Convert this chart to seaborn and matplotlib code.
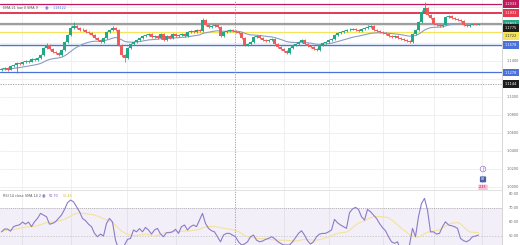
import numpy as np
import pandas as pd
import matplotlib
matplotlib.use("Agg")
import matplotlib.pyplot as plt
import seaborn as sns

sns.set_theme(style="white")
plt.rcParams['font.family'] = ['DejaVu Sans']

# ---------------- data ----------------
first_open = 1.1300
closes = [1.1311, 1.1322, 1.1300, 1.1345, 1.1356, 1.1378, 1.1367, 1.1389, 1.1400, 1.1389,
          1.1422, 1.1411, 1.1433, 1.1467, 1.1545, 1.1578, 1.1534, 1.1500, 1.1489, 1.1467,
          1.1522, 1.1611, 1.1689, 1.1767, 1.1789, 1.1767, 1.1744, 1.1750, 1.1722, 1.1711,
          1.1689, 1.1656, 1.1633, 1.1611, 1.1656, 1.1722, 1.1744, 1.1767, 1.1744, 1.1578,
          1.1467, 1.1433, 1.1545, 1.1589, 1.1611, 1.1633, 1.1656, 1.1678, 1.1689, 1.1700,
          1.1667, 1.1678, 1.1656, 1.1700, 1.1633, 1.1678, 1.1656, 1.1700, 1.1678, 1.1689,
          1.1700, 1.1678, 1.1722, 1.1733, 1.1722, 1.1744, 1.1733, 1.1856, 1.1800, 1.1778,
          1.1789, 1.1800, 1.1778, 1.1678, 1.1722, 1.1733, 1.1744, 1.1733, 1.1722, 1.1711,
          1.1656, 1.1578, 1.1589, 1.1611, 1.1667, 1.1678, 1.1656, 1.1633, 1.1622, 1.1633,
          1.1645, 1.1589, 1.1556, 1.1534, 1.1511, 1.1489, 1.1545, 1.1578, 1.1589, 1.1611,
          1.1633, 1.1589, 1.1567, 1.1556, 1.1534, 1.1522, 1.1578, 1.1600, 1.1611, 1.1633,
          1.1645, 1.1689, 1.1711, 1.1722, 1.1733, 1.1744, 1.1750, 1.1756, 1.1744, 1.1733,
          1.1756, 1.1767, 1.1778, 1.1789, 1.1744, 1.1733, 1.1722, 1.1711, 1.1700, 1.1678,
          1.1667, 1.1678, 1.1656, 1.1645, 1.1633, 1.1622, 1.1611, 1.1700, 1.1744, 1.1834,
          1.1945, 1.1989, 1.1911, 1.1878, 1.1811, 1.1800, 1.1789, 1.1800, 1.1889, 1.1900,
          1.1878, 1.1867, 1.1856, 1.1845, 1.1800, 1.1789, 1.1800, 1.1811, 1.1805, 1.1811]
highs = [1.1325, 1.1335, 1.1330, 1.1356, 1.1370, 1.1390, 1.1392, 1.1400, 1.1415, 1.1410,
         1.1435, 1.1430, 1.1445, 1.1480, 1.1560, 1.1595, 1.1585, 1.1545, 1.1512, 1.1498,
         1.1535, 1.1625, 1.1700, 1.1785, 1.1830, 1.1800, 1.1778, 1.1765, 1.1758, 1.1735,
         1.1720, 1.1698, 1.1665, 1.1645, 1.1668, 1.1735, 1.1758, 1.1790, 1.1775, 1.1752,
         1.1585, 1.1478, 1.1558, 1.1600, 1.1625, 1.1648, 1.1670, 1.1692, 1.1705, 1.1715,
         1.1710, 1.1690, 1.1688, 1.1712, 1.1708, 1.1690, 1.1685, 1.1715, 1.1708, 1.1700,
         1.1712, 1.1708, 1.1735, 1.1748, 1.1742, 1.1758, 1.1752, 1.1880, 1.1862, 1.1808,
         1.1800, 1.1815, 1.1808, 1.1785, 1.1735, 1.1745, 1.1758, 1.1752, 1.1740, 1.1730,
         1.1718, 1.1662, 1.1602, 1.1622, 1.1678, 1.1692, 1.1685, 1.1662, 1.1642, 1.1645,
         1.1660, 1.1652, 1.1595, 1.1562, 1.1540, 1.1518, 1.1556, 1.1590, 1.1602, 1.1625,
         1.1650, 1.1640, 1.1598, 1.1575, 1.1562, 1.1540, 1.1590, 1.1612, 1.1625, 1.1645,
         1.1658, 1.1700, 1.1725, 1.1738, 1.1748, 1.1760, 1.1765, 1.1770, 1.1765, 1.1752,
         1.1768, 1.1780, 1.1795, 1.1805, 1.1795, 1.1752, 1.1740, 1.1730, 1.1718, 1.1708,
         1.1685, 1.1690, 1.1685, 1.1662, 1.1652, 1.1640, 1.1630, 1.1712, 1.1760, 1.1848,
         1.1965, 1.2056, 1.2000, 1.1920, 1.1885, 1.1820, 1.1808, 1.1815, 1.1900, 1.1915,
         1.1908, 1.1885, 1.1875, 1.1862, 1.1852, 1.1808, 1.1812, 1.1822, 1.1818, 1.1820]
lows = [1.1290, 1.1302, 1.1288, 1.1295, 1.1335, 1.1262, 1.1355, 1.1360, 1.1380, 1.1378,
        1.1385, 1.1398, 1.1405, 1.1428, 1.1460, 1.1535, 1.1525, 1.1490, 1.1475, 1.1455,
        1.1460, 1.1515, 1.1600, 1.1680, 1.1755, 1.1755, 1.1735, 1.1730, 1.1712, 1.1700,
        1.1678, 1.1645, 1.1620, 1.1598, 1.1605, 1.1650, 1.1715, 1.1738, 1.1735, 1.1565,
        1.1450, 1.1390, 1.1425, 1.1538, 1.1580, 1.1600, 1.1625, 1.1648, 1.1668, 1.1680,
        1.1655, 1.1658, 1.1645, 1.1650, 1.1620, 1.1625, 1.1645, 1.1650, 1.1668, 1.1670,
        1.1680, 1.1668, 1.1672, 1.1715, 1.1712, 1.1715, 1.1725, 1.1728, 1.1790, 1.1768,
        1.1770, 1.1780, 1.1768, 1.1665, 1.1670, 1.1715, 1.1725, 1.1722, 1.1712, 1.1700,
        1.1645, 1.1565, 1.1568, 1.1580, 1.1605, 1.1658, 1.1645, 1.1622, 1.1612, 1.1612,
        1.1625, 1.1578, 1.1545, 1.1522, 1.1500, 1.1475, 1.1482, 1.1538, 1.1568, 1.1580,
        1.1602, 1.1578, 1.1556, 1.1545, 1.1522, 1.1510, 1.1515, 1.1570, 1.1590, 1.1602,
        1.1625, 1.1638, 1.1680, 1.1702, 1.1712, 1.1725, 1.1735, 1.1740, 1.1735, 1.1722,
        1.1725, 1.1748, 1.1758, 1.1770, 1.1735, 1.1722, 1.1712, 1.1700, 1.1690, 1.1668,
        1.1655, 1.1658, 1.1645, 1.1635, 1.1622, 1.1612, 1.1598, 1.1605, 1.1692, 1.1738,
        1.1825, 1.1935, 1.1900, 1.1865, 1.1800, 1.1790, 1.1778, 1.1780, 1.1795, 1.1880,
        1.1868, 1.1858, 1.1845, 1.1835, 1.1790, 1.1780, 1.1782, 1.1795, 1.1798, 1.1800]
rsi = [53.0, 55.0, 55.0, 53.5, 56.7, 57.5, 58.0, 60.0, 58.5, 60.0,
       56.7, 60.2, 62.6, 66.2, 65.0, 63.8, 58.5, 59.0, 60.2, 62.6,
       65.0, 69.0, 73.8, 75.7, 74.5, 71.0, 67.4, 62.6, 61.0, 58.5,
       56.7, 51.9, 49.5, 51.4, 50.0, 59.0, 62.6, 60.0, 47.0, 41.0,
       38.8, 43.6, 47.6, 48.3, 54.3, 53.0, 55.3, 53.0, 56.2, 54.3,
       51.4, 54.3, 55.5, 51.4, 49.5, 52.4, 52.4, 53.0, 54.8, 51.9,
       56.7, 57.9, 54.3, 56.7, 57.9, 56.7, 61.4, 66.2, 59.0, 55.5,
       53.8, 53.0, 49.5, 45.9, 50.7, 51.9, 51.9, 50.7, 49.5, 45.9,
       43.6, 44.3, 45.9, 49.5, 50.7, 47.1, 45.9, 46.4, 47.6, 48.3,
       49.5, 48.3, 46.2, 44.8, 43.6, 43.6, 43.6, 45.9, 48.8, 51.9,
       53.8, 50.7, 46.7, 44.3, 45.9, 49.5, 51.4, 51.9, 51.9, 53.0,
       54.3, 61.9, 59.5, 57.9, 56.7, 55.5, 66.7, 69.3, 70.5, 69.0,
       63.8, 61.4, 69.0, 67.4, 65.0, 62.6, 59.0, 56.0, 53.8, 49.5,
       45.9, 44.8, 45.9, 40.0, 40.0, 41.9, 43.6, 55.5, 49.5, 63.8,
       73.3, 76.9, 68.6, 53.0, 53.0, 51.4, 51.9, 56.7, 60.2, 57.9,
       57.4, 56.7, 55.5, 48.3, 46.7, 45.9, 47.1, 49.5, 50.0, 50.7]

level_prices = [1.2033, 1.1933, 1.1811, 1.1722, 1.1578, 1.1278]
level_colors = ["#c2185b", "#e53950", "#9e9e9e", "#f5e35a", "#4a72d9", "#4a72d9"]
level_widths = [0.9, 1.4, 1.6, 0.9, 1.0, 0.9]
price_ticks = [1.00, 1.02, 1.04, 1.06, 1.08, 1.10, 1.12, 1.14, 1.16, 1.18, 1.20]
shown_price_ticks = [1.00, 1.02, 1.04, 1.06, 1.08, 1.10, 1.14]
rsi_ticks = [50, 60, 70, 80]
time_grid = [6.7, 23.3, 41.7, 58.3, 94.0, 109.3, 127.3, 144.0, 160.0]
cross_idx = 77.7
cross_price = 1.1144
current_price = 1.1811
ema_value_label = 1.1775

n = len(closes)
opens = [first_open] + closes[:-1]
df = pd.DataFrame({"i": np.arange(n), "open": opens, "high": highs,
                   "low": lows, "close": closes, "rsi": rsi})
df["ema"] = df["close"].ewm(span=21, adjust=False).mean()
df["rsi_ma"] = df["rsi"].rolling(14, min_periods=1).mean()

UP = "#22a884"
DN = "#ef5a5a"

fig = plt.figure(figsize=(5.2, 2.45), dpi=100)
fig.patch.set_facecolor("white")
W = 502 / 520
ax = fig.add_axes([0, 55 / 245, W, 190 / 245])
ax2 = fig.add_axes([0, 0, W, 55 / 245], sharex=ax)
XR = 518.5 / 502      # right edge of text, axes fraction
XC = 511 / 502        # centre of label boxes

xmin, xmax = -0.5, -0.5 + 502 / 3
for a in (ax, ax2):
    a.set_facecolor("white")
    for s in a.spines.values():
        s.set_visible(False)
    a.tick_params(left=False, bottom=False, labelleft=False, labelbottom=False,
                  right=False, labelright=False)
    for t in time_grid:
        a.axvline(t, color="#eeeeee", lw=0.6, zorder=0)
    a.axvline(cross_idx, color="#9a9a9a", lw=0.6, ls=(0, (1.5, 1.5)), zorder=5)

ax.set_xlim(xmin, xmax)
ax.set_ylim(0.9967, 1.2078)
for p in price_ticks:
    ax.axhline(p, color="#eeeeee", lw=0.6, zorder=0)

# levels
for p, c, w in zip(level_prices, level_colors, level_widths):
    ax.axhline(p, color=c, lw=w, zorder=1)
ax.axhline(cross_price, color="#9a9a9a", lw=0.6, ls=(0, (1.5, 1.5)), zorder=5)

# candles
up = df["close"] >= df["open"]
colors = np.where(up, UP, DN)
ax.vlines(df["i"], df["low"], df["high"], colors=colors, lw=0.6, zorder=3)
ax.bar(df["i"], (df["close"] - df["open"]).abs().clip(lower=0.0004),
       bottom=np.minimum(df["open"], df["close"]), width=0.7, color=colors,
       linewidth=0, zorder=4)

sns.lineplot(data=df, x="i", y="ema", ax=ax, color="#8a9cc2", lw=0.8, zorder=2,
             legend=False)
ax.set_xlabel("")
ax.set_ylabel("")

# right-side price axis
tr = ax.get_yaxis_transform()
for p in shown_price_ticks:
    ax.text(XR, p, f"{p:.4f}", transform=tr, fontsize=2.5, color="#666666",
            va="center", ha="right", clip_on=False)


def box(a, y, txt, fc, tc="white"):
    a.text(XC, y, txt, transform=a.get_yaxis_transform(), fontsize=2.5,
           color=tc, va="center", ha="center", clip_on=False, zorder=10,
           bbox=dict(boxstyle="square,pad=0.5", fc=fc, ec="none"))


box(ax, level_prices[0], f"{level_prices[0]:.4f}", "#c2185b")
box(ax, level_prices[1], f"{level_prices[1]:.4f}", "#e53950")
box(ax, current_price, f"{current_price:.4f}", "#22a884")
box(ax, ema_value_label - 0.0010, f"{ema_value_label:.4f}", "#1e1e1e")
box(ax, level_prices[3] - 0.0045, f"{level_prices[3]:.4f}", "#f5e35a", tc="#333333")
box(ax, level_prices[4], f"{level_prices[4]:.4f}", "#4a72d9")
box(ax, level_prices[5] - 0.0008, f"{level_prices[5]:.4f}", "#4a72d9")
box(ax, cross_price, f"{cross_price:.4f}", "#1e1e1e")

# legend (top-left)
LY = 1 - 8 / 190
ax.text(0.006, LY, "EMA 21 low 0 SMA 9", transform=ax.transAxes, fontsize=2.4,
        color="#555555", va="center", ha="left", zorder=12)
ax.text(0.090, LY, "◉", transform=ax.transAxes, fontsize=3.0,
        color="#7e57c2", va="center", ha="left", zorder=12)
ax.text(0.104, LY, f"{df['ema'].iloc[-1]:.5f}", transform=ax.transAxes,
        fontsize=2.4, color="#4a72d9", va="center", ha="left", zorder=12)

# small icons near bottom right of price pane
ax.text(160.5, 1.020, "ƒ", fontsize=3.0, color="#7e57c2", ha="center", va="center",
        bbox=dict(boxstyle="circle,pad=0.2", fc="white", ec="#7e57c2", lw=0.4))
ax.text(160.5, 1.0085, "80", fontsize=2.4, color="white", ha="center", va="center",
        bbox=dict(boxstyle="round,pad=0.3", fc="#4a5fa8", ec="none"))
ax.text(160.5, 0.9995, "21E5", fontsize=2.2, color="#c2185b", ha="center",
        va="center", bbox=dict(boxstyle="round,pad=0.3", fc="#f6c4d4", ec="none"))

# ---------------- RSI pane ----------------
ax2.set_ylim(43.6, 82.9)
ax2.axhspan(30, 70, color="#7e57c2", alpha=0.09, lw=0, zorder=0)
ax2.axhline(70, color="#9a9a9a", lw=0.5, ls=(0, (1.5, 1.5)), zorder=1)
ax2.axhline(50, color="#bdbdbd", lw=0.5, ls=(0, (2, 2)), zorder=1)
ax2.axhline(82.9, color="#dddddd", lw=0.6, zorder=1)
sns.lineplot(data=df, x="i", y="rsi_ma", ax=ax2, color="#f3e29a", lw=0.8,
             zorder=2, legend=False)
sns.lineplot(data=df, x="i", y="rsi", ax=ax2, color="#8d7bc7", lw=0.8, zorder=3,
             legend=False)
ax2.set_xlabel("")
ax2.set_ylabel("")
tr2 = ax2.get_yaxis_transform()
for r in rsi_ticks:
    ax2.text(XR, r, f"{r:.2f}", transform=tr2, fontsize=2.5, color="#666666",
             va="center", ha="right", clip_on=False)
ax2.text(0.006, 0.89, "RSI 14 close SMA 14 2", transform=ax2.transAxes,
         fontsize=2.4, color="#555555", va="center", ha="left")
ax2.text(0.083, 0.89, "◉", transform=ax2.transAxes, fontsize=3.0,
         color="#7e57c2", va="center", ha="left")
ax2.text(0.097, 0.89, f"{df['rsi'].iloc[-1]:.2f}", transform=ax2.transAxes,
         fontsize=2.4, color="#7e57c2", va="center", ha="left")
ax2.text(0.125, 0.89, f"{df['rsi_ma'].iloc[-1]:.2f}", transform=ax2.transAxes,
         fontsize=2.4, color="#d4b93a", va="center", ha="left")

# right border of plot area
fig.add_artist(plt.Line2D([W, W], [0, 1], color="#cfcfcf", lw=0.6))

fig.savefig("out.png", dpi=100, facecolor="white")
